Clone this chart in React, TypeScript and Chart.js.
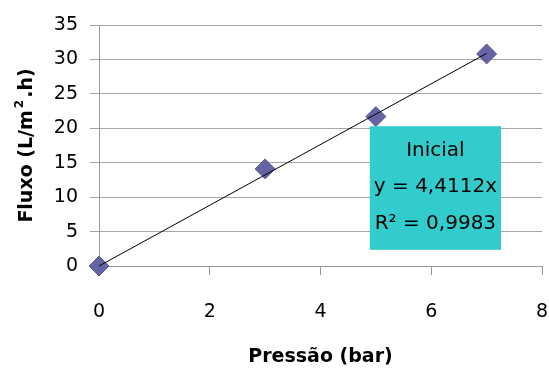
import React, { useEffect, useRef } from "react";
import { Chart, registerables } from "chart.js";

Chart.register(...registerables);

const pressao = [0, 3, 5, 7];
const fluxo = [0, 14.1, 21.7, 30.8];
const slope = 4.4112;
const trendRange = [0, 7];
const labelLines = ["Inicial", "y = 4,4112x", "R² = 0,9983"];
const xTitle = "Pressão (bar)";
const yTitleParts = ["Fluxo (L/m", "2", ".h)"];
// label box in data units [xMin, xMax, yMin, yMax]
const boxX = [4.89, 7.26];
const boxY = [2.35, 20.3];

const FONT = "'DejaVu Sans', sans-serif";

const boxPlugin = {
  id: "eqbox",
  afterDatasetsDraw(chart: any) {
    const { ctx, scales } = chart;
    const x0 = scales.x.getPixelForValue(boxX[0]);
    const x1 = scales.x.getPixelForValue(boxX[1]);
    const y0 = scales.y.getPixelForValue(boxY[1]);
    const y1 = scales.y.getPixelForValue(boxY[0]);
    ctx.save();
    ctx.fillStyle = "#33CCCC";
    ctx.fillRect(x0, y0, x1 - x0, y1 - y0);
    ctx.fillStyle = "#000";
    ctx.font = `20px ${FONT}`;
    ctx.textAlign = "center";
    ctx.textBaseline = "middle";
    const cx = (x0 + x1) / 2;
    const h = y1 - y0;
    const step = 36.5;
    const mid = y0 + h / 2;
    labelLines.forEach((t, i) => {
      ctx.fillText(t, cx, mid + (i - 1) * step - 1);
    });
    ctx.restore();
  },
};

const yTitlePlugin = {
  id: "ytitle",
  afterDraw(chart: any) {
    const { ctx, chartArea } = chart;
    const big = `bold 19px ${FONT}`;
    const small = `bold 12px ${FONT}`;
    ctx.save();
    ctx.font = big;
    const w0 = ctx.measureText(yTitleParts[0]).width;
    const w2 = ctx.measureText(yTitleParts[2]).width;
    ctx.font = small;
    const w1 = ctx.measureText(yTitleParts[1]).width + 4;
    const total = w0 + w1 + w2;
    const cy = (chartArea.top + chartArea.bottom) / 2;
    ctx.translate(27, cy);
    ctx.rotate(-Math.PI / 2);
    ctx.fillStyle = "#000";
    ctx.textBaseline = "middle";
    ctx.textAlign = "left";
    let x = -total / 2;
    ctx.font = big;
    ctx.fillText(yTitleParts[0], x, 0);
    x += w0;
    ctx.font = small;
    ctx.fillText(yTitleParts[1], x + 2, -7);
    x += w1;
    ctx.font = big;
    ctx.fillText(yTitleParts[2], x, 0);
    ctx.restore();
  },
};

export default function App() {
  const ref = useRef<HTMLCanvasElement>(null);
  useEffect(() => {
    document.body.style.margin = "0";
    const pts = pressao.map((x, i) => ({ x, y: fluxo[i] }));
    const trend = trendRange.map((x) => ({ x, y: slope * x }));
    const chart = new Chart(ref.current!, {
      type: "scatter",
      data: {
        datasets: [
          {
            type: "line",
            data: trend,
            borderColor: "#000",
            borderWidth: 1,
            pointRadius: 0,
            fill: false,
            clip: false,
          },
          {
            data: pts,
            pointStyle: "rectRot",
            pointRadius: 10,
            backgroundColor: "#6464A4",
            borderColor: "#5A5A96",
            borderWidth: 1,
            clip: false,
          },
        ],
      },
      options: {
        animation: false,
        responsive: false,
        layout: { autoPadding: false, padding: { top: 25, right: 7, left: 0, bottom: 0 } },
        plugins: { legend: { display: false }, tooltip: { enabled: false } },
        scales: {
          x: {
            type: "linear",
            min: 0,
            max: 8,
            ticks: { stepSize: 2, color: "#000", font: { family: FONT, size: 19 }, padding: 26 },
            grid: { drawOnChartArea: false, drawTicks: true, tickLength: 9, color: "#999" },
            border: { display: true, color: "#999" },
            title: {
              display: true,
              text: xTitle,
              color: "#000",
              font: { family: FONT, size: 19, weight: "bold" },
              padding: { top: 0, bottom: 0 },
            },
            afterFit(s: any) {
              s.height = 102;
              s.paddingRight = 0;
              s.paddingLeft = 0;
            },
          },
          y: {
            type: "linear",
            min: 0,
            max: 35,
            ticks: { stepSize: 5, color: "#000", font: { family: FONT, size: 19 }, padding: 12 },
            grid: { color: "#A6A6A6", tickLength: 9 },
            border: { display: true, color: "#999" },
            afterFit(s: any) {
              s.width = 99;
              s.paddingTop = 0;
              s.paddingBottom = 0;
            },
          },
        },
      },
      plugins: [boxPlugin, yTitlePlugin],
    });
    return () => chart.destroy();
  }, []);
  return (
    <div style={{ width: 549, height: 368 }}>
      <canvas ref={ref} width={549} height={368} style={{ display: "block" }} />
    </div>
  );
}
